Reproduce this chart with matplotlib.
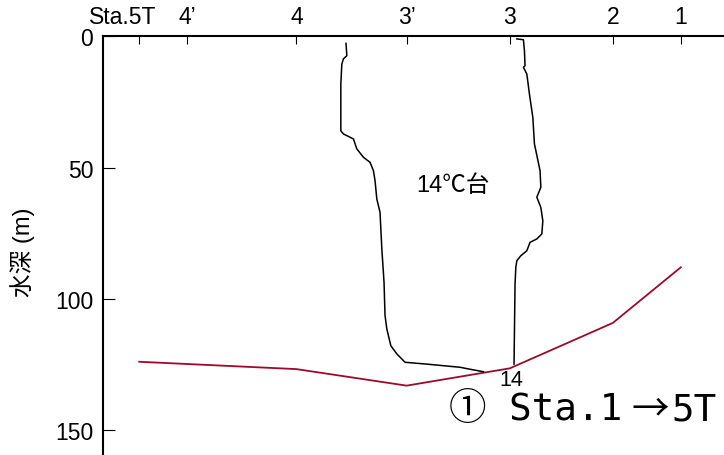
import matplotlib
matplotlib.use('Agg')
import matplotlib.pyplot as plt
import matplotlib.transforms as mtransforms

# station positions along the section (arbitrary distance units)
station_names = ['Sta.5T', '4\u2019', '4', '3\u2019', '3', '2', '1']
station_x = [1.81, 4.22, 9.67, 15.18, 20.34, 25.49, 28.89]

# sea bottom depth (m) at the stations (no value at 4')
bottom_x = [1.81, 9.67, 15.18, 20.34, 25.49, 28.89]
bottom_depth = [124.0, 126.8, 133.1, 126.5, 109.2, 88.0]

# 14 degC isotherm, west side
iso_w_x = [12.15, 12.19, 12.02, 11.94, 11.89, 11.89, 12.02, 12.52, 12.69, 13.02,
	13.35, 13.52, 13.60, 13.69, 13.85, 13.94, 14.05, 14.10, 14.19, 14.39,
	14.69, 15.10, 16.19, 17.85, 18.52, 19.02]
iso_w_depth = [2.7, 7.4, 8.6, 10.6, 18.2, 36.0, 37.2, 39.1, 42.9, 46.1,
	48.0, 51.2, 55.0, 62.0, 67.1, 81.0, 93.7, 106.4, 111.5, 117.9,
	121.0, 124.2, 124.9, 126.1, 127.1, 127.8]

# 14 degC isotherm, east side
iso_e_x = [20.69, 21.02, 21.07, 21.10, 21.02, 21.19, 21.32, 21.49, 21.57, 21.85,
	21.89, 21.69, 21.89, 21.99, 21.94, 21.69, 21.35, 21.19, 20.89, 20.69,
	20.64, 20.60, 20.55]
iso_e_depth = [1.0, 1.3, 5.5, 11.2, 11.8, 14.4, 22.0, 30.9, 41.0, 51.2,
	57.5, 61.3, 65.2, 70.3, 75.3, 77.2, 78.5, 81.7, 83.6, 85.5,
	88.0, 94.4, 124.9]

depth_ticks = [0, 50, 100, 150]


def main():
	plt.rcParams['font.family'] = ['Liberation Sans', 'Noto Sans CJK JP']
	fig = plt.figure(figsize=(7.24, 4.56), dpi=100)
	# axes run past the right and bottom edge of the picture
	ax = fig.add_axes([0.1423, -0.0603, 0.884, 0.9785])

	ax.plot(bottom_x, bottom_depth, color='#9c0a2a', lw=1.3)
	ax.plot(iso_w_x, iso_w_depth, color='black', lw=1.1)
	ax.plot(iso_e_x, iso_e_depth, color='black', lw=1.1)

	ax.text(20.42, 130.6, '14', fontsize=15.5, ha='center', va='center')
	ax.text(17.5, 56.5, '14\u2103\u53f0', fontsize=17, ha='center', va='center')

	# section name, the arrow drawn full width as in the original
	mono = ['DejaVu Sans Mono', 'Noto Sans CJK JP']
	ax.text(25.95, 142.0, '\u2460 Sta.1', fontsize=27, ha='right', va='center', family=mono)
	ax.text(27.35, 142.0, '\u2192', fontsize=27, ha='center', va='center',
		family=['Noto Sans CJK JP'])
	ax.text(28.4, 142.0, '5T', fontsize=27, ha='left', va='center', family=mono)

	ax.set_xlim(0, 32)
	ax.set_ylim(170, 0)
	ax.xaxis.tick_top()
	ax.set_xticks(station_x)
	ax.set_xticklabels(station_names)
	ax.set_yticks(depth_ticks)
	ax.tick_params(axis='x', direction='in', length=5.4, width=0.8, pad=6, labelsize=16.5)
	ax.tick_params(axis='y', direction='in', length=8.4, width=0.8, pad=7, labelsize=16.5)

	# first label sits a little left of its tick
	shift = mtransforms.ScaledTranslation(-0.17, 0, fig.dpi_scale_trans)
	first = ax.get_xticklabels()[0]
	first.set_transform(first.get_transform() + shift)

	for side in ['right', 'bottom']:
		ax.spines[side].set_visible(False)
	for side in ['left', 'top']:
		ax.spines[side].set_linewidth(1.5)

	ax.set_ylabel('\u6c34\u6df1 (m)', fontsize=17, va='center')
	ax.yaxis.set_label_coords(-0.125, 0.519)

	fig.savefig('out.png', dpi=100)


if __name__ == '__main__':
	main()
